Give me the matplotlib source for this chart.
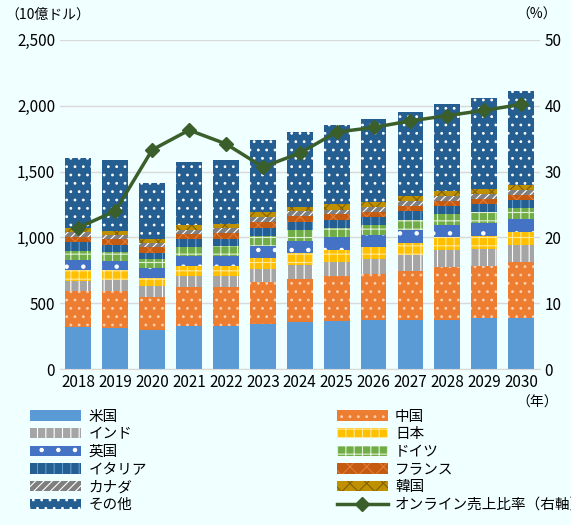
import matplotlib
matplotlib.use("Agg")
import matplotlib.pyplot as plt
import numpy as np
plt.rcParams['font.family'] = ['Noto Sans CJK JP', 'DejaVu Sans']
plt.rcParams['hatch.linewidth'] = 0.8

years = [str(y) for y in range(2018, 2031)]
us      = [320,315,300,330,330,345,355,365,375,375,375,385,390]
china   = [270,280,250,290,290,320,330,345,350,370,400,400,420]
india   = [80,80,80,85,85,95,105,105,110,120,130,125,130]
japan   = [80,75,65,75,80,85,90,90,95,95,95,100,100]
uk      = [75,70,75,75,75,90,95,95,90,95,95,100,100]
germany = [70,70,65,75,75,75,80,75,75,80,80,80,80]
italy   = [70,50,50,55,55,65,65,60,60,65,65,65,65]
france  = [40,45,40,40,45,45,40,40,40,40,40,40,40]
canada  = [35,35,30,35,35,35,40,35,35,35,35,35,35]
korea   = [35,30,30,35,30,35,30,40,40,40,40,40,40]
other   = [525,540,425,480,490,550,570,600,630,635,655,690,710]
ratio   = [21.5,24.0,33.3,36.3,34.2,30.7,32.8,36.0,36.7,37.7,38.5,39.3,40.2]

series = [
    ("米国", us, "#5B9BD5", "#5B9BD5", None),
    ("中国", china, "#ED7D31", "#FFD0B0", ".."),
    ("インド", india, "#A5A5A5", "#FFFFFF", "||"),
    ("日本", japan, "#FFC000", "#FFE89A", "++"),
    ("英国", uk, "#4472C4", "#FFFFFF", "."),
    ("ドイツ", germany, "#70AD47", "#E2F0D9", "++"),
    ("イタリア", italy, "#255E91", "#5B9BD5", "||"),
    ("フランス", france, "#C55A11", "#E07B39", "xx"),
    ("カナダ", canada, "#7F7F7F", "#FFFFFF", "////"),
    ("韓国", korea, "#BF9000", "#806000", "xx"),
    ("その他", other, "#255E91", "#FFFFFF", ".."),
]

bg = "#F0FFFF"
fig = plt.figure(figsize=(5.71, 5.25), dpi=100, facecolor=bg)
ax = fig.add_axes([0.105, 0.297, 0.84, 0.627], facecolor=bg)
x = np.arange(len(years))
bottom = np.zeros(len(years))
handles = []
for name, vals, fc, ec, h in series:
    b = ax.bar(x, vals, 0.7, bottom=bottom, color=fc, edgecolor=ec if h else fc,
               hatch=h, linewidth=0, label=name)
    bottom += np.array(vals)
    handles.append(b)
ax.set_ylim(0, 2500)
ax.set_xlim(-0.5, len(years) - 0.5)
ax.set_yticks(range(0, 2501, 500))
ax.set_yticklabels([f"{v:,}" for v in range(0, 2501, 500)], fontsize=11)
ax.set_xticks(x)
ax.set_xticklabels(years, fontsize=11)
ax.yaxis.grid(True, color="#D9D9D9", linewidth=1)
ax.set_axisbelow(True)
for s in ["top", "right", "left"]:
    ax.spines[s].set_visible(False)
ax.spines["bottom"].set_color("#D9D9D9")
ax.tick_params(length=0)

ax2 = ax.twinx()
ln, = ax2.plot(x, ratio, color="#3A5F2A", linewidth=2.5, marker="D", markersize=7,
               label="オンライン売上比率（右軸）")
ax2.set_ylim(0, 50)
ax2.set_yticks(range(0, 51, 10))
ax2.tick_params(length=0, labelsize=11)
for s in ax2.spines.values():
    s.set_visible(False)

fig.text(0.01, 0.965, "（10億ドル）", fontsize=10)
fig.text(0.905, 0.965, "（%）", fontsize=10)
fig.text(0.905, 0.225, "（年）", fontsize=10)

allh = handles + [ln]
alll = [s[0] for s in series] + [ln.get_label()]
order = list(range(0, 12, 2)) + list(range(1, 12, 2))
fig.legend([allh[i] for i in order], [alll[i] for i in order],
           loc="lower left", bbox_to_anchor=(0.03, 0.0), ncol=2, frameon=False,
           fontsize=10.5, columnspacing=13, handlelength=3.5, labelspacing=0.25,
           handletextpad=0.5)
fig.savefig("out.png", facecolor=bg)
